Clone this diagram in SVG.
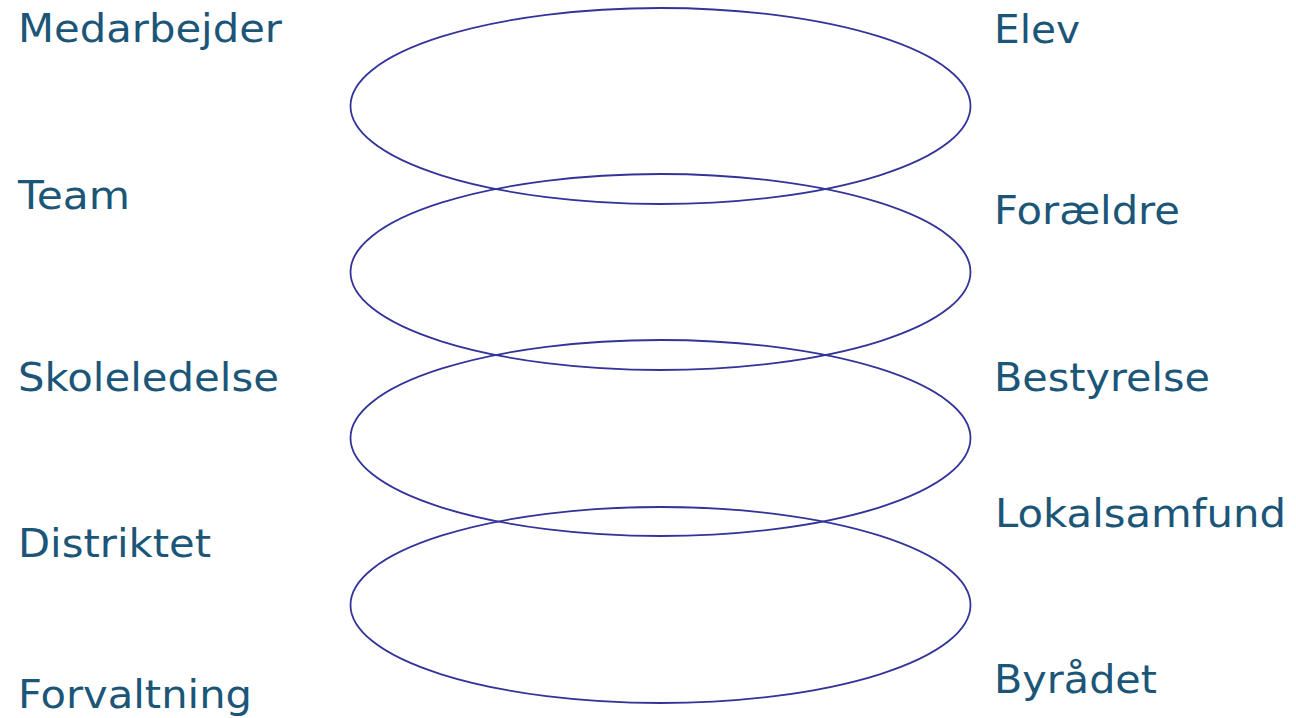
<svg xmlns="http://www.w3.org/2000/svg" width="1296" height="718" viewBox="0 0 1296 718">
<style>
.lbl{font-family:"DejaVu Sans",Verdana,sans-serif;font-size:39px;fill:#1B5678}
.ring{fill:none;stroke:#333399;stroke-width:1.8}
</style>
<rect width="1296" height="718" fill="#ffffff"/>
<g id="rings">
<ellipse id="ring1" class="ring" cx="660.5" cy="106" rx="310" ry="98"/>
<ellipse id="ring2" class="ring" cx="660.5" cy="272" rx="310" ry="98"/>
<ellipse id="ring3" class="ring" cx="660.5" cy="438" rx="310" ry="98"/>
<ellipse id="ring4" class="ring" cx="660.5" cy="605" rx="310" ry="98"/>
</g>
<g id="left-labels">
<text id="medarbejder" class="lbl" x="18" y="42" textLength="264" lengthAdjust="spacingAndGlyphs">Medarbejder</text>
<text id="team" class="lbl" x="18" y="209" textLength="112" lengthAdjust="spacingAndGlyphs">Team</text>
<text id="skoleledelse" class="lbl" x="18" y="391" textLength="261" lengthAdjust="spacingAndGlyphs">Skoleledelse</text>
<text id="distriktet" class="lbl" x="18" y="557" textLength="193" lengthAdjust="spacingAndGlyphs">Distriktet</text>
<text id="forvaltning" class="lbl" x="18" y="708" textLength="234" lengthAdjust="spacingAndGlyphs">Forvaltning</text>
</g>
<g id="right-labels">
<text id="elev" class="lbl" x="994" y="43" textLength="86" lengthAdjust="spacingAndGlyphs">Elev</text>
<text id="foraeldre" class="lbl" x="994" y="224" textLength="186" lengthAdjust="spacingAndGlyphs">Forældre</text>
<text id="bestyrelse" class="lbl" x="994" y="391" textLength="216" lengthAdjust="spacingAndGlyphs">Bestyrelse</text>
<text id="lokalsamfund" class="lbl" x="995" y="527" textLength="291" lengthAdjust="spacingAndGlyphs">Lokalsamfund</text>
<text id="byraadet" class="lbl" x="994" y="693" textLength="163" lengthAdjust="spacingAndGlyphs">Byrådet</text>
</g>
</svg>
